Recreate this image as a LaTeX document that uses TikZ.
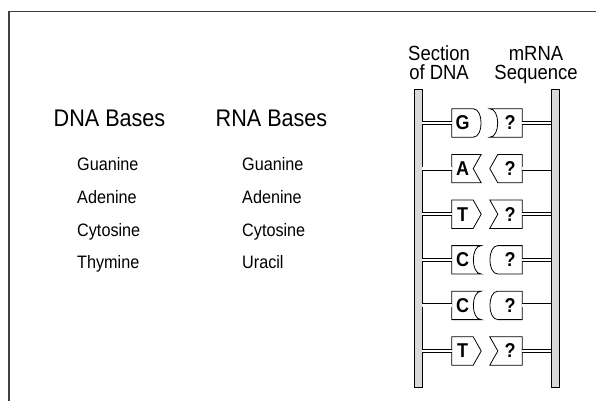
\documentclass[tikz,border=0pt]{standalone}
\usepackage{fontspec}
\setmainfont{Liberation Sans}[FakeStretch=0.9]
\usepackage{tikz}
\usetikzlibrary{positioning,calc}

% side shapes of a base box: node, anchor side, direction (+1 east, -1 west)
\newcommand{\sidebulge}[3]{(#1.south #2) .. controls +({(#3)*10.5},0) and +({(#3)*10.5},0) .. (#1.north #2)}
\newcommand{\sidehollow}[3]{($(#1.south #2)+({(#3)*8},0)$) .. controls +({-(#3)*10.5},0) and +({-(#3)*10.5},0) .. ($(#1.north #2)+({(#3)*8},0)$)}
\newcommand{\sidepoint}[3]{(#1.south #2) -- ($(#1.#2)+({(#3)*8},0)$) -- (#1.north #2)}
\newcommand{\sidenotch}[3]{($(#1.south #2)+({(#3)*8},0)$) -- (#1.#2) -- ($(#1.north #2)+({(#3)*8},0)$)}

\begin{document}
\begin{tikzpicture}[
  x=1pt, y=-1pt,
  title/.style={font=\fontsize{24}{24}\selectfont, anchor=base, inner sep=0pt},
  head/.style={font=\fontsize{20.5}{18.5}\selectfont, align=center, anchor=base, inner sep=0pt},
  item/.style={font=\fontsize{18}{18}\selectfont, anchor=base west, inner sep=0pt},
  strand/.style={draw, line width=0.8pt, fill=gray!30, minimum width=8pt, minimum height=298pt, inner sep=0pt},
  dnabox/.style={minimum width=21pt, minimum height=28pt, inner sep=0pt, font=\fontsize{20}{20}\selectfont\bfseries},
  rnabox/.style={dnabox, minimum width=24pt},
  outline/.style={draw, line width=0.8pt, fill=white},
  rung/.style={double, double distance=2.4pt, line width=0.8pt},
  frame/.style={draw=black!75, line width=1.2pt}
]
\fill[white] (0,0) rectangle (596,401);
\useasboundingbox (0,0) rectangle (596,401);
\draw[frame] (596,11.5) -- (9,11.5) -- (9,401);

% base lists
\node[title] (dnahead) at (109.5,126) {DNA Bases};
\node[title] (rnahead) at (271.5,126) {RNA Bases};
\node[item] (dg) at (77,170) {Guanine};
\node[item] (da) at (77,203) {Adenine};
\node[item] (dc) at (77,236) {Cytosine};
\node[item] (dt) at (77,268) {Thymine};
\node[item] (rg) at (242,170) {Guanine};
\node[item] (ra) at (242,203) {Adenine};
\node[item] (rc) at (242,236) {Cytosine};
\node[item] (ru) at (242,268) {Uracil};

% ladder
\node[head] (secdna) at (439,79.5) {Section\\of DNA};
\node[head] (mrnaseq) at (536,79.5) {mRNA\\Sequence};

\node[strand] (lstrand) at (418,238) {};
\node[strand] (rstrand) at (555.5,238) {};

\foreach \i/\y/\b/\ds/\rs in {1/123/G/\sidebulge/\sidehollow,
                              2/168.6/A/\sidenotch/\sidepoint,
                              3/214.2/T/\sidepoint/\sidenotch,
                              4/259.8/C/\sidehollow/\sidebulge,
                              5/305.4/C/\sidehollow/\sidebulge,
                              6/351/T/\sidepoint/\sidenotch} {
  \node[dnabox] (d\i) at (462.5,\y) {};
  \node[rnabox] (r\i) at (510,\y) {};
  \draw[outline] \ds{d\i}{east}{1} -- (d\i.north west) -- (d\i.south west) -- cycle;
  \draw[outline] \rs{r\i}{west}{-1} -- (r\i.north east) -- (r\i.south east) -- cycle;
  \node[dnabox] at (d\i) {\b};
  \node[rnabox] at (r\i) {?};
  \draw[rung] (lstrand.east |- d\i.west) -- (d\i.west);
  \draw[rung] (r\i.east) -- (rstrand.west |- r\i.east);
}
\end{tikzpicture}
\end{document}
